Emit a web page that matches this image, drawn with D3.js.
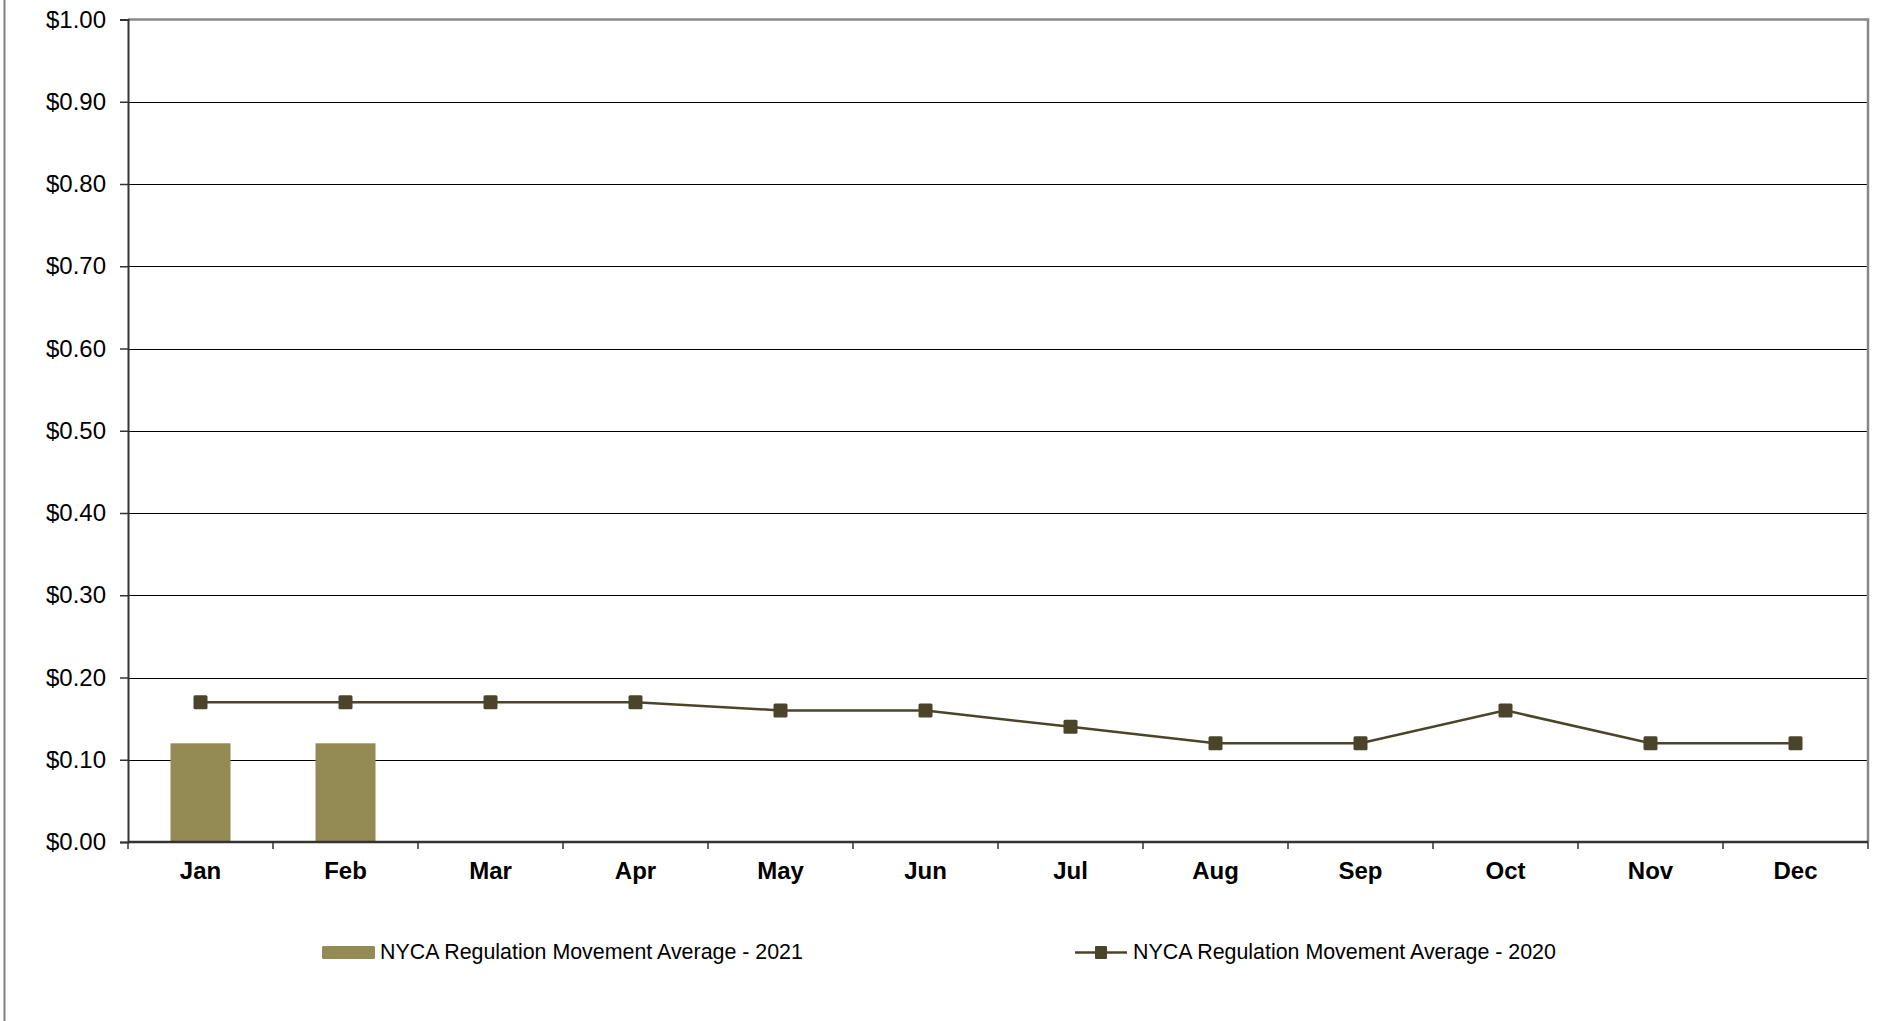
<!DOCTYPE html>
<html><head><meta charset="utf-8">
<script src="https://cdn.jsdelivr.net/npm/d3@7"></script>
<style>html,body{margin:0;padding:0;background:#fff;}svg{display:block;}</style>
</head><body>
<script>
const months = ["Jan","Feb","Mar","Apr","May","Jun","Jul","Aug","Sep","Oct","Nov","Dec"];
const values2021 = [0.12, 0.12, null, null, null, null, null, null, null, null, null, null];
const values2020 = [0.17, 0.17, 0.17, 0.17, 0.16, 0.16, 0.14, 0.12, 0.12, 0.16, 0.12, 0.12];
const yTicks = [0, 0.1, 0.2, 0.3, 0.4, 0.5, 0.6, 0.7, 0.8, 0.9, 1.0];
const seriesNames = ["NYCA Regulation Movement Average - 2021", "NYCA Regulation Movement Average - 2020"];

(function () {
const W = 1894, H = 1021;
const pLeft = 128, pRight = 1868, pTop = 19.5, pBottom = 842;
const barColor = "#948a54", lineColor = "#4a452a";
const font = "Liberation Sans, Arial, sans-serif";

const svg = d3.select("body").append("svg").attr("width", W).attr("height", H);

// outer frame left line
svg.append("line").attr("x1", 4.5).attr("x2", 4.5).attr("y1", 0).attr("y2", H)
  .attr("stroke", "#808080").attr("stroke-width", 2);

const x = d3.scaleBand().domain(months).range([pLeft, pRight]).padding(0);
const y = d3.scaleLinear().domain([0, 1]).range([pBottom, pTop]);

// gridlines
svg.append("g").selectAll("line").data(yTicks.filter(d => d > 0 && d < 1)).join("line")
  .attr("x1", pLeft).attr("x2", pRight)
  .attr("y1", d => Math.round(y(d)) + 0.5).attr("y2", d => Math.round(y(d)) + 0.5)
  .attr("stroke", "#000").attr("stroke-width", 1);

// plot border top & right
svg.append("path")
  .attr("d", `M${pLeft},${pTop} H${pRight} V${pBottom}`)
  .attr("fill", "none").attr("stroke", "#888").attr("stroke-width", 2.5);

// bars
const bw = 60;
svg.append("g").selectAll("rect").data(months.map((m, i) => ({m, v: values2021[i]})).filter(d => d.v != null)).join("rect")
  .attr("x", d => x(d.m) + x.bandwidth() / 2 - bw / 2)
  .attr("y", d => y(d.v))
  .attr("width", bw)
  .attr("height", d => y(0) - y(d.v))
  .attr("fill", barColor);

// y axis
const yAxis = d3.axisLeft(y).tickValues(yTicks).tickSize(8).tickPadding(14)
  .tickFormat(d => "$" + d3.format(".2f")(d));
const gy = svg.append("g").attr("transform", `translate(${pLeft},0)`).call(yAxis);
gy.select(".domain").attr("stroke", "#333").attr("stroke-width", 2);
gy.selectAll(".tick line").attr("stroke", "#333").attr("stroke-width", 1.5);
gy.selectAll(".tick text").attr("font-family", font)
  .attr("font-size", 24).attr("fill", "#000");

// x axis
const xAxis = d3.axisBottom(x).tickSize(0).tickPadding(20);
const gx = svg.append("g").attr("transform", `translate(0,${pBottom})`).call(xAxis);
gx.select(".domain").remove();
gx.append("line").attr("x1", pLeft).attr("x2", pRight).attr("y1", 0).attr("y2", 0)
  .attr("stroke", "#333").attr("stroke-width", 2.5);
gx.selectAll(".tick text").attr("font-family", font)
  .attr("font-size", 24).attr("font-weight", "bold").attr("fill", "#000");
// category boundary ticks
const bounds = months.map(m => x(m)).concat([pRight]);
gx.append("g").selectAll("line").data(bounds).join("line")
  .attr("x1", d => d).attr("x2", d => d).attr("y1", 0).attr("y2", 7)
  .attr("stroke", "#333").attr("stroke-width", 1.5);

// line series
const pts = months.map((m, i) => ({m, v: values2020[i]}));
const lineGen = d3.line().x(d => x(d.m) + x.bandwidth() / 2).y(d => y(d.v));
svg.append("path").datum(pts).attr("d", lineGen)
  .attr("fill", "none").attr("stroke", lineColor).attr("stroke-width", 2.5);
const ms = 14;
svg.append("g").selectAll("rect").data(pts).join("rect")
  .attr("x", d => x(d.m) + x.bandwidth() / 2 - ms / 2)
  .attr("y", d => y(d.v) - ms / 2)
  .attr("width", ms).attr("height", ms).attr("rx", 1.5)
  .attr("fill", lineColor);

// legend
const lg = svg.append("g").attr("font-family", font).attr("font-size", 21.4);
lg.append("rect").attr("x", 322).attr("y", 946).attr("width", 53).attr("height", 13).attr("rx", 1.5).attr("fill", barColor);
lg.append("text").attr("x", 380).attr("y", 959).text(seriesNames[0]).attr("fill", "#000");
lg.append("line").attr("x1", 1075).attr("x2", 1127).attr("y1", 952.5).attr("y2", 952.5)
  .attr("stroke", lineColor).attr("stroke-width", 2.5);
lg.append("rect").attr("x", 1095).attr("y", 946).attr("width", 12).attr("height", 13).attr("rx", 1).attr("fill", lineColor);
lg.append("text").attr("x", 1133).attr("y", 959).text(seriesNames[1]).attr("fill", "#000");
})();
</script>
</body></html>
